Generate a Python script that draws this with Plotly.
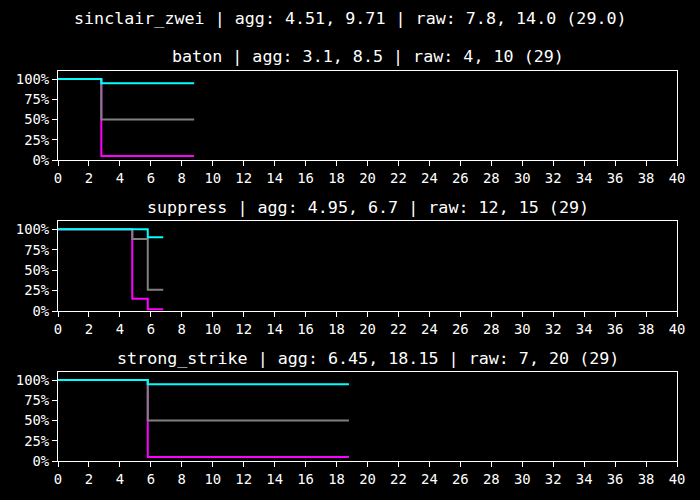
import plotly.graph_objects as go
from plotly.subplots import make_subplots

# survival-like step curves per move (x = time, y = fraction remaining)
suptitle = "sinclair_zwei | agg: 4.51, 9.71 | raw: 7.8, 14.0 (29.0)"
panel_titles = [
    "baton | agg: 3.1, 8.5 | raw: 4, 10 (29)",
    "suppress | agg: 4.95, 6.7 | raw: 12, 15 (29)",
    "strong_strike | agg: 6.45, 18.15 | raw: 7, 20 (29)",
]

# baton
baton_x = [0, 2.8, 8.8]
baton_magenta = [1.0, 0.05, 0.05]
baton_gray = [1.0, 0.50, 0.50]
baton_cyan = [1.0, 0.95, 0.95]

# suppress
suppress_x = [0, 4.8, 5.8, 6.8]
suppress_magenta = [1.0, 0.15, 0.02, 0.02]
suppress_gray = [1.0, 0.88, 0.26, 0.26]
suppress_cyan = [1.0, 1.0, 0.90, 0.90]

# strong_strike
strike_x = [0, 5.8, 18.8]
strike_magenta = [1.0, 0.05, 0.05]
strike_gray = [1.0, 0.50, 0.50]
strike_cyan = [1.0, 0.95, 0.95]

panels = [
    (baton_x, baton_magenta, baton_gray, baton_cyan),
    (suppress_x, suppress_magenta, suppress_gray, suppress_cyan),
    (strike_x, strike_magenta, strike_gray, strike_cyan),
]
colors = ["#ff00ff", "#808080", "#00ffff"]

MONO = "DejaVu Sans Mono"

fig = make_subplots(rows=3, cols=1)

for i, (xs, mag, gry, cyn) in enumerate(panels):
    for ys, col in zip([mag, gry, cyn], colors):
        fig.add_trace(go.Scatter(x=xs, y=ys, mode="lines", line_shape="hv",
                                 line=dict(color=col, width=2),
                                 showlegend=False), row=i + 1, col=1)

# plot area in pixels: x 58..677, y 71..461
H = 390.0
domains = [((461 - 160) / H, 1.0), ((461 - 311) / H, (461 - 221) / H), (0.0, (461 - 372) / H)]
axis_style = dict(showline=True, mirror=True, linecolor="white", linewidth=1,
                  ticks="outside", ticklen=5, tickcolor="white", tickwidth=1,
                  showgrid=False, zeroline=False,
                  tickfont=dict(family=MONO, size=13.9, color="white"))
for i in range(3):
    n = "" if i == 0 else str(i + 1)
    fig.layout["xaxis" + n].update(range=[0, 40], dtick=2, tick0=0, **axis_style)
    fig.layout["yaxis" + n].update(range=[0, 1.1], tickvals=[0, 0.25, 0.5, 0.75, 1.0],
                                   tickformat=".0%", domain=list(domains[i]), **axis_style)

title_centers = [56, 207, 358]
for t, yc in zip(panel_titles, title_centers):
    fig.add_annotation(text=t, xref="paper", yref="paper", x=0.5, y=(461 - yc) / H,
                       xanchor="center", yanchor="middle", showarrow=False,
                       font=dict(family=MONO, size=16.7, color="white"))
fig.add_annotation(text=suptitle, xref="paper", yref="paper", x=(350 - 58) / 619.0,
                   y=(461 - 18) / H, xanchor="center", yanchor="middle", showarrow=False,
                   font=dict(family=MONO, size=16.7, color="white"))

fig.update_layout(width=700, height=500, paper_bgcolor="black", plot_bgcolor="black",
                  margin=dict(l=58, r=23, t=71, b=39))

fig.write_html("out.html", config={"displayModeBar": False},
               post_script="document.body.style.margin='0';")
